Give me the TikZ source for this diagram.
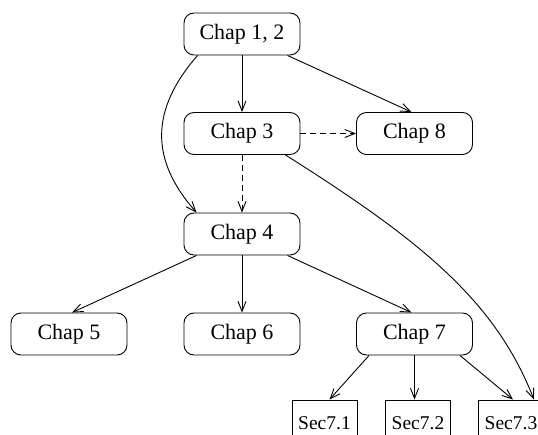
\documentclass[tikz,border=0pt]{standalone}
\usepackage{fontspec}
\setmainfont{Liberation Serif}
\usetikzlibrary{arrows.meta}
\tikzset{
  chap/.style={draw, rounded corners=10pt, minimum width=116pt, minimum height=42pt,
    inner sep=0pt, font=\fontsize{22}{24}\selectfont, line width=0.9pt},
  sec/.style={draw, minimum width=65pt, minimum height=46pt, inner sep=0pt,
    font=\fontsize{19.5}{22}\selectfont, line width=0.9pt},
  arr/.style={-{Straight Barb[length=10pt,width=8pt,line width=0.9pt]}, line width=0.9pt},
  darr/.style={arr, dash pattern=on 6pt off 4pt}
}
\begin{document}
\begin{tikzpicture}[x=1pt,y=-1pt]
\useasboundingbox (0,0) rectangle (538,435);
\node[chap] (c12) at (242,34) {Chap 1, 2};
\node[chap] (c3) at (242,133.5) {Chap 3};
\node[chap] (c8) at (414.5,133.5) {Chap 8};
\node[chap] (c4) at (242,234) {Chap 4};
\node[chap] (c5) at (69,334) {Chap 5};
\node[chap] (c6) at (242,334) {Chap 6};
\node[chap] (c7) at (414.5,334) {Chap 7};
\node[sec] (s1) at (324.5,423) {Sec7.1};
\node[sec] (s2) at (418,423) {Sec7.2};
\node[sec] (s3) at (511,423) {Sec7.3};

\draw[arr] (c12) -- (c3);
\draw[arr] ([xshift=-13pt]c12.south east) -- ([xshift=-3pt]c8.north);
\draw[arr] ([xshift=14pt]c12.south west) .. controls (150,110) and (150,160) .. ([xshift=13pt]c4.north west);
\draw[darr] (c3) -- (c8);
\draw[darr] (c3) -- (c4);
\draw[arr] ([xshift=-15pt]c3.south east) .. controls (420,240) and (495,300) .. ([xshift=-10pt]s3.north east);
\draw[arr] ([xshift=13pt]c4.south west) -- ([xshift=3pt]c5.north);
\draw[arr] (c4) -- (c6);
\draw[arr] ([xshift=-13pt]c4.south east) -- ([xshift=-3pt]c7.north);
\draw[arr] ([xshift=13pt]c7.south west) -- ([xshift=5pt]s1.north);
\draw[arr] (c7.south) -- (c7.south |- s2.north);
\draw[arr] ([xshift=-13pt]c7.south east) -- ([xshift=2pt]s3.north);
\end{tikzpicture}
\end{document}
